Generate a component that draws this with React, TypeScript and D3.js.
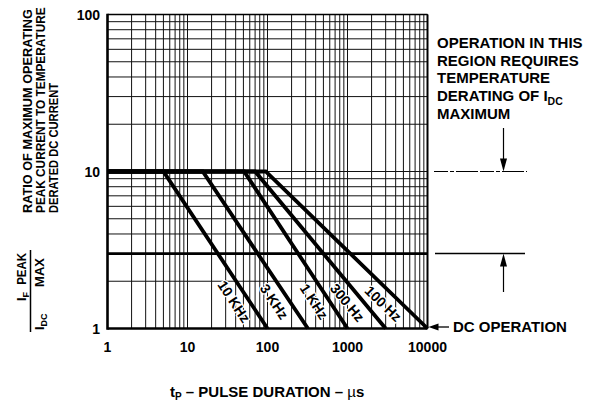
import React from "react";
import * as d3 from "d3";

const W = 593;
const H = 406;

const xTickValues = [1, 10, 100, 1000, 10000];
const xTickLabels = ["1", "10", "100", "1000", "10000"];
const yTickValues = [1, 10, 100];
const yTickLabels = ["1", "10", "100"];

const seriesNames = ["10 KHz", "3 KHz", "1 KHz", "300 Hz", "100 Hz"];
const kneePulse = [5, 15.5, 51, 70, 95]; // µs where ratio leaves 10
const dcPulse = [100, 320, 1000, 3000, 10000]; // µs where ratio reaches 1
const peakRatio = 10;
const dcRatio = 1;
const deratingRatio = 3;
const labelRatio = 1.65;

const annotationLines = ["OPERATION IN THIS", "REGION REQUIRES", "TEMPERATURE", "DERATING OF I", "MAXIMUM"];
const yTitleLines = ["RATIO OF MAXIMUM OPERATING", "PEAK CURRENT TO TEMPERATURE", "DERATED DC CURRENT"];
const yTitleScale = [0.98, 0.91, 0.86];

const FONT = "'Liberation Sans', Arial, Helvetica, sans-serif";

export default function App() {
  const x = d3.scaleLog().domain([1, 10000]).range([107.5, 427.5]);
  const y = d3.scaleLog().domain([1, 100]).range([328.5, 14.5]);
  const line = d3
    .line<[number, number]>()
    .x((d) => x(d[0]))
    .y((d) => y(d[1]));

  const xGrid = x.ticks();
  const yGrid = y.ticks();
  const [x0, x1] = x.range();
  const [y0, y1] = y.range();

  const arrowX = 503.5;

  return (
    <svg
      width={W}
      height={H}
      style={{ position: "absolute", left: 0, top: 0, background: "#fff" }}
      fontFamily={FONT}
      fontWeight="bold"
    >
      <rect width={W} height={H} fill="#fff" />
      {/* grid */}
      {xGrid.map((v, i) => (
        <line key={"gx" + i} x1={x(v)} x2={x(v)} y1={y1} y2={y0} stroke="#111" strokeWidth={1} />
      ))}
      {yGrid.map((v, i) => (
        <line key={"gy" + i} x1={x0} x2={x1} y1={y(v)} y2={y(v)} stroke="#111" strokeWidth={1} />
      ))}
      {/* frame */}
      <line x1={x0} x2={x1} y1={y1} y2={y1} stroke="#000" strokeWidth={1.6} />
      <line x1={x1} x2={x1} y1={y1} y2={y0} stroke="#000" strokeWidth={2} />
      <line x1={x0} x2={x0} y1={y1 - 0.8} y2={y0 + 1.3} stroke="#000" strokeWidth={2.6} />
      <line x1={x0} x2={x1} y1={y0} y2={y0} stroke="#000" strokeWidth={2.6} />
      {/* derating line */}
      <line x1={x0} x2={x1} y1={y(deratingRatio)} y2={y(deratingRatio)} stroke="#000" strokeWidth={2.8} />
      {/* curves */}
      {seriesNames.map((name, i) => (
        <path
          key={"c" + i}
          d={line([
            [1, peakRatio],
            [kneePulse[i], peakRatio],
            [dcPulse[i], dcRatio],
          ]) || ""}
          fill="none"
          stroke="#000"
          strokeWidth={3.8}
          strokeLinejoin="miter"
        />
      ))}
      {/* curve labels */}
      {seriesNames.map((name, i) => {
        const lk = Math.log10(kneePulse[i]);
        const ld = Math.log10(dcPulse[i]);
        const t = (Math.log10(peakRatio) - Math.log10(labelRatio)) / (Math.log10(peakRatio) - Math.log10(dcRatio));
        const lx = Math.pow(10, lk + t * (ld - lk));
        const px = x(lx);
        const py = y(labelRatio);
        const dx = x(dcPulse[i]) - x(kneePulse[i]);
        const dy = y(dcRatio) - y(peakRatio);
        const len = Math.hypot(dx, dy);
        const ux = dx / len;
        const uy = dy / len;
        const off = 13;
        const cx = px - uy * off;
        const cy = py + ux * off;
        const ang = (Math.atan2(dy, dx) * 180) / Math.PI;
        return (
          <g key={"l" + i} transform={`translate(${cx},${cy}) rotate(${ang})`}>
            <text
              textAnchor="middle"
              dominantBaseline="central"
              fontSize={14}
              fill="#000"
              stroke="#fff"
              strokeWidth={2.5}
              paintOrder="stroke"
            >
              {name}
            </text>
          </g>
        );
      })}
      {/* x tick labels */}
      {xTickValues.map((v, i) => (
        <text key={"xt" + i} x={x(v)} y={351.5} textAnchor="middle" fontSize={14} fill="#000">
          {xTickLabels[i]}
        </text>
      ))}
      {/* y tick labels */}
      {yTickValues.map((v, i) => (
        <text key={"yt" + i} x={100} y={y(v) + 5} textAnchor="end" fontSize={14} fill="#000">
          {yTickLabels[i]}
        </text>
      ))}
      {/* x title */}
      <text x={170} y={397} fontSize={15} fill="#000">
        t<tspan fontSize={10} dy={3}>P</tspan>
        <tspan dy={-3}> – PULSE DURATION – </tspan>
        <tspan fontWeight="normal">µ</tspan>s
      </text>
      {/* y title */}
      {yTitleLines.map((s, i) => (
        <text
          key={"ytl" + i}
          transform={`translate(${32 + i * 12.8},213) rotate(-90) scale(${yTitleScale[i]},1)`}
          fontSize={13}
          fill="#000"
        >
          {s}
        </text>
      ))}
      {/* fraction */}
      <text transform="translate(26,301) rotate(-90)" fontSize={13} fill="#000">
        I<tspan fontSize={9} dy={3}>F</tspan>
      </text>
      <text transform="translate(26,253) rotate(-90) scale(0.88,1)" fontSize={13} fill="#000" textAnchor="end">
        PEAK
      </text>
      <line x1={30.5} x2={30.5} y1={250} y2={332} stroke="#000" strokeWidth={1.5} />
      <text transform="translate(44,330) rotate(-90)" fontSize={13} fill="#000">
        I<tspan fontSize={9} dy={3}>DC</tspan>
      </text>
      <text transform="translate(44,258) rotate(-90)" fontSize={13} fill="#000" textAnchor="end">
        MAX
      </text>
      {/* right annotation */}
      {annotationLines.map((s, i) => (
        <text key={"an" + i} x={437} y={48 + i * 17.7} fontSize={15} fill="#000">
          {s}
          {i === 3 ? (
            <tspan fontSize={10.5} dy={4}>
              DC
            </tspan>
          ) : null}
        </text>
      ))}
      <line x1={434} x2={527} y1={y(peakRatio)} y2={y(peakRatio)} stroke="#000" strokeWidth={1.2} strokeDasharray="14,2,4,2,22,2" />
      <line x1={435} x2={525} y1={y(deratingRatio)} y2={y(deratingRatio)} stroke="#000" strokeWidth={1.5} />
      <line x1={arrowX} x2={arrowX} y1={128} y2={y(peakRatio) - 10} stroke="#000" strokeWidth={1.2} />
      <path
        d={`M${arrowX - 3.5},${y(peakRatio) - 13} L${arrowX + 3.5},${y(peakRatio) - 13} L${arrowX},${y(peakRatio)} Z`}
        fill="#000"
      />
      <line x1={arrowX} x2={arrowX} y1={292} y2={y(deratingRatio) + 10} stroke="#000" strokeWidth={1.2} />
      <path
        d={`M${arrowX - 3.5},${y(deratingRatio) + 13} L${arrowX + 3.5},${y(deratingRatio) + 13} L${arrowX},${y(deratingRatio)} Z`}
        fill="#000"
      />
      {/* DC operation */}
      <line x1={x1 + 8} x2={449} y1={y(dcRatio) - 1.5} y2={y(dcRatio) - 1.5} stroke="#000" strokeWidth={1.3} />
      <path
        d={`M${x1 + 1},${y(dcRatio) - 1.5} L${x1 + 11},${y(dcRatio) - 5} L${x1 + 11},${y(dcRatio) + 2} Z`}
        fill="#000"
      />
      <text x={453} y={332} fontSize={15} fill="#000">
        DC OPERATION
      </text>
    </svg>
  );
}
